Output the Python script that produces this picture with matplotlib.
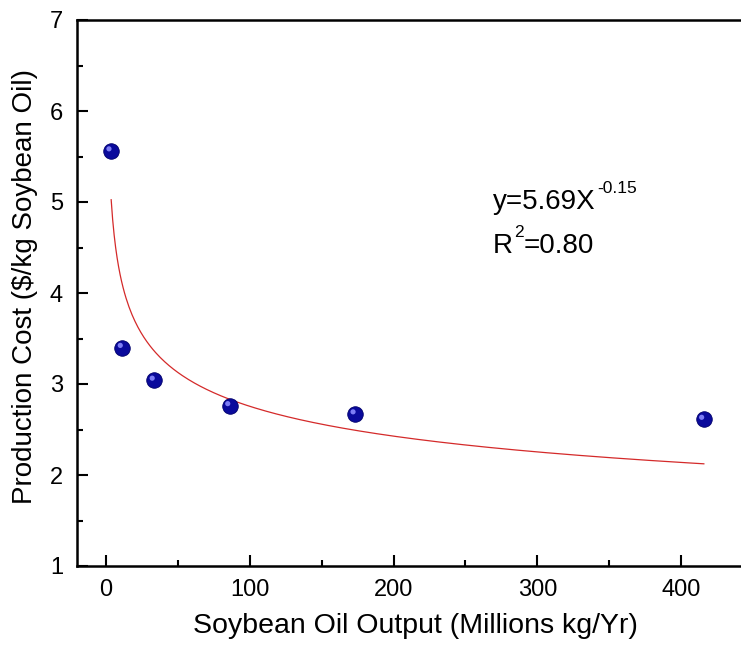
import numpy as np
import matplotlib
matplotlib.use("Agg")
import matplotlib.pyplot as plt
from matplotlib.ticker import MultipleLocator
from matplotlib.transforms import offset_copy

plt.rcParams["font.family"] = ["Liberation Sans", "DejaVu Sans"]

# data
output = [3.75, 11.6, 33.8, 86.3, 173.4, 415.7]
cost = [5.56, 3.40, 3.04, 2.76, 2.67, 2.61]

# power curve as drawn on the chart (y = a * x^b)
fit_a = 6.40
fit_b = -0.183

eq_base, eq_exp = "y=5.69X", "-0.15"
r2_base, r2_exp, r2_rest = "R", "2", "=0.80"

fig = plt.figure(figsize=(7.41, 6.46), dpi=100)
ax = fig.add_axes([77 / 741, 80 / 646, 669 / 741, 546 / 646])

xs = np.linspace(min(output), max(output), 400)
ax.plot(xs, fit_a * xs ** fit_b, color="#d42a2a", lw=0.9, zorder=2)

ax.scatter(output, cost, s=125, color="#0a0a9c", edgecolors="#00006a",
           linewidths=0.6, zorder=3)
# small highlight to mimic the shaded spheres
hl = offset_copy(ax.transData, fig=fig, x=-2.2, y=2.2, units="dots")
ax.scatter(output, cost, s=14, color="#8a8aff", edgecolors="none",
           alpha=0.9, transform=hl, zorder=4)

ax.set_xlim(-20, 445)
ax.set_ylim(1, 7)
ax.xaxis.set_major_locator(MultipleLocator(100))
ax.xaxis.set_minor_locator(MultipleLocator(50))
ax.yaxis.set_major_locator(MultipleLocator(1))
ax.yaxis.set_minor_locator(MultipleLocator(0.5))

for side in ["left", "bottom", "top", "right"]:
    ax.spines[side].set_linewidth(1.8)
ax.spines["right"].set_visible(False)

ax.tick_params(which="major", direction="in", length=8, width=1.5,
               labelsize=17, top=False, right=False)
ax.tick_params(axis="y", which="major", pad=10)
ax.tick_params(axis="x", which="major", pad=9)
ax.tick_params(which="minor", direction="in", length=4, width=1.5,
               top=False, right=False)

ax.set_xlabel("Soybean Oil Output (Millions kg/Yr)", fontsize=20.5)
ax.set_ylabel("Production Cost ($/kg Soybean Oil)", fontsize=20)
ax.xaxis.set_label_coords(0.506, -0.086)
ax.yaxis.set_label_coords(-0.058, 0.511)

t1 = ax.text(0.622, 0.654, eq_base, transform=ax.transAxes, fontsize=20,
             va="baseline")
ax.annotate(eq_exp, xy=(1, 0.72), xycoords=t1, xytext=(1, 0),
            textcoords="offset points", fontsize=12.5, va="bottom")

t2 = ax.text(0.622, 0.573, r2_base, transform=ax.transAxes, fontsize=20,
             va="baseline")
sup = ax.annotate(r2_exp, xy=(1, 0.72), xycoords=t2, xytext=(0.5, 0),
                  textcoords="offset points", fontsize=12.5, va="bottom")
ax.annotate(r2_rest, xy=(1, 0), xycoords=(sup, t2), fontsize=20,
            va="bottom")

fig.savefig("out.png", dpi=100)
